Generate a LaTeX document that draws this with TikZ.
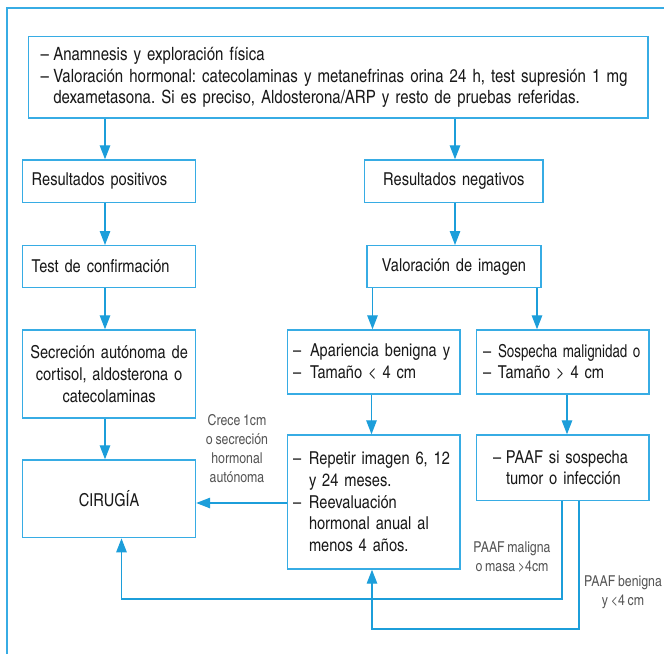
\documentclass[tikz,border=0pt]{standalone}
\usepackage{fontspec}
\setmainfont{TeX Gyre Heros Cn}[WordSpace=0.8]
\usetikzlibrary{arrows.meta}
\definecolor{lnblue}{RGB}{28,158,218}
\definecolor{bxblue}{RGB}{55,172,228}
\definecolor{txtc}{RGB}{25,25,25}
\definecolor{lblc}{RGB}{85,85,85}
\newcommand{\dsh}[1][16pt]{\makebox[#1][l]{–}}
\newcommand{\ind}[1][16pt]{\hspace*{#1}}
\newcommand{\ml}[1]{\mbox{#1}}
\newcommand{\mainf}{\frenchspacing\fontsize{17.8}{21.7}\selectfont}
\newcommand{\topf}{\frenchspacing\fontsize{18.3}{21.2}\selectfont}
\newcommand{\lblf}{\frenchspacing\fontsize{15}{19}\selectfont}
\tikzset{
  box/.style={draw=bxblue, line width=1.4pt, rectangle, text=txtc, font=\mainf, inner ysep=0pt},
  arr/.style={draw=lnblue, line width=1.3pt, -{Triangle[length=14pt,width=10.5pt]}},
  lbl/.style={text=lblc, font=\lblf, align=center, inner sep=0pt},
  frame/.style={draw=bxblue, line width=2pt}
}
\begin{document}
\begin{tikzpicture}[x=1pt,y=-1pt]
\useasboundingbox (0,0) rectangle (664,654);
% outer frame
\coordinate (f0) at (6.7,654);
\coordinate (f1) at (6.7,7.5);
\coordinate (f2) at (664,7.5);
\draw[frame] (f0) -- (f1) -- (f2);

% boxes
\node[box, font=\topf, minimum width=619.5pt, minimum height=81.3pt, inner xsep=12.2pt, text width=595.1pt, align=left] (top) at (338.25,77.35)
 {\ml{\dsh[12.6pt]Anamnesis y exploración física}\\
  \ml{\dsh[12.6pt]Valoración hormonal: catecolaminas y metanefrinas orina 24 h, test supresión 1 mg}\\
  \ml{\ind[12.6pt]dexametasona. Si es preciso, Aldosterona/ARP y resto de pruebas referidas.}};

\node[box, minimum width=172.8pt, minimum height=42.7pt, inner xsep=9pt, text width=154.8pt, align=left] (pos) at (109.1,181.35) {Resultados positivos};
\node[box, minimum width=178.5pt, minimum height=42.7pt, inner xsep=5pt, text width=168.5pt, align=center] (neg) at (453.75,181.35) {Resultados negativos};
\node[box, minimum width=172.8pt, minimum height=41.6pt, inner xsep=9pt, text width=154.8pt, align=left] (test) at (109.1,266.5) {Test de confirmación};
\node[box, minimum width=174pt, minimum height=41.6pt, inner xsep=5pt, text width=164pt, align=center] (val) at (454,266.5) {Valoración de imagen};
\node[box, minimum width=172.8pt, minimum height=88pt, inner xsep=3pt, text width=166.8pt, align=center] (sec) at (109.1,374) {\ml{Secreción autónoma de}\\\ml{cortisol, aldosterona o}\\catecolaminas};
\node[box, minimum width=172.8pt, minimum height=77.7pt, inner xsep=3pt, text width=166.8pt, align=center] (cir) at (109.1,498.85) {CIRUGÍA};
\node[box, minimum width=172.7pt, minimum height=64pt, inner xsep=5.7pt, text width=161.3pt, align=left] (apa) at (373.65,362) {\ml{\dsh[17pt]Apariencia benigna y}\\\ml{\dsh[17pt]Tamaño < 4 cm}};
\node[box, minimum width=172.3pt, minimum height=64pt, inner xsep=6.3pt, text width=159.7pt, align=left] (sos) at (562.85,362) {\ml{\dsh[15pt]\scalebox{0.915}[1]{Sospecha malignidad o}}\\\ml{\dsh[15pt]Tamaño > 4 cm}};
\node[box, minimum width=172.7pt, minimum height=134pt, inner xsep=5.7pt, text width=161.3pt, align=left] (rep) at (373.65,502) {\ml{\dsh Repetir imagen 6, 12}\\\ml{\ind y 24 meses.}\\\ml{\dsh Reevaluación}\\\ml{\ind hormonal anual al}\\\ml{\ind menos 4 años.}};
\node[box, minimum width=172.3pt, minimum height=65.7pt, inner xsep=16.3pt, text width=139.7pt, align=left] (paaf) at (562.85,467.85) {\ml{\dsh[13pt]PAAF si sospecha}\\\ml{\ind[13pt]tumor o infección}};

% labels
\node[lbl] (l1) at (237,448.5) {Crece 1cm\\o secreción\\hormonal\\autónoma};
\node[lbl] (l2) at (512,557.5) {PAAF maligna\\o masa >4cm};
\node[lbl] (l3) at (623,592.5) {PAAF benigna\\y <4 cm};

% connectors
\coordinate (xl) at (105,0);
\coordinate (xr) at (455,0);
\draw[arr] (top.south -| xl) -- (pos.north -| xl);
\draw[arr] (top.south -| xr) -- (neg.north -| xr);
\draw[arr] (pos.south -| xl) -- (test.north -| xl);
\draw[arr] (neg.south -| xr) -- (val.north -| xr);
\draw[arr] (test.south -| xl) -- (sec.north -| xl);
\draw[arr] (sec.south -| xl) -- (cir.north -| xl);

\coordinate (xa) at (372.5,0);
\coordinate (xb) at (537,0);
\draw[arr] (val.south -| xa) -- (apa.north -| xa);
\draw[arr] (val.south -| xb) -- (sos.north -| xb);
\coordinate (xc) at (371.5,0);
\coordinate (xd) at (567,0);
\draw[arr] (apa.south -| xc) -- (rep.north -| xc);
\draw[arr] (sos.south -| xd) -- (paaf.north -| xd);

\draw[arr] (rep.west |- 0,503) -- (cir.east |- 0,503);

\coordinate (m1) at (562,599);
\coordinate (m2) at (579,629);
\coordinate (xe) at (121.5,0);
\coordinate (xf) at (372,0);
\draw[arr] (paaf.south -| m1) -- (m1) -| (cir.south -| xe);
\draw[arr] (paaf.south -| m2) -- (m2) -| (rep.south -| xf);
\end{tikzpicture}
\end{document}
